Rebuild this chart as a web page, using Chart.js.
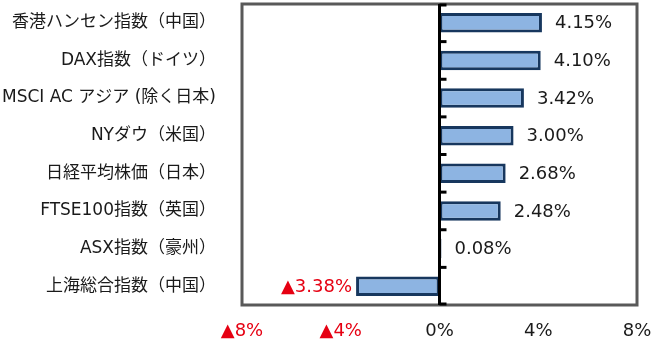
<!DOCTYPE html>
<html>
<head>
<meta charset="utf-8">
<script src="https://cdn.jsdelivr.net/npm/chart.js@4"></script>
<style>
html,body{margin:0;padding:0;background:#fff;}
#wrap{width:659px;height:345px;position:relative;}
</style>
</head>
<body>
<div id="wrap"><canvas id="c" width="659" height="345"></canvas></div>
<script>
const categories = ["香港ハンセン指数（中国）","DAX指数（ドイツ）","MSCI AC アジア (除く日本)","NYダウ（米国）","日経平均株価（日本）","FTSE100指数（英国）","ASX指数（豪州）","上海総合指数（中国）"];
const returns = [4.15, 4.10, 3.42, 3.00, 2.68, 2.48, 0.08, -3.38];
const xTicks = [-8, -4, 0, 4, 8];

const FONT = '"DejaVu Sans", "Noto Sans CJK JP", sans-serif';
const RED = '#e60012';
const TXT = '#1a1a1a';

function fmt(v, digits) {
  const s = Math.abs(v).toFixed(digits) + '%';
  return v < 0 ? '▲' + s : s;
}

const decor = {
  id: 'decor',
  afterDatasetsDraw(chart) {
    const {ctx, chartArea: a, scales: {x, y}} = chart;
    ctx.save();
    // plot border
    ctx.strokeStyle = '#595959';
    ctx.lineWidth = 3;
    ctx.strokeRect(a.left, a.top, a.right - a.left, a.bottom - a.top);
    // zero line
    const x0 = x.getPixelForValue(0);
    ctx.strokeStyle = '#000';
    ctx.lineWidth = 3;
    ctx.beginPath();
    ctx.moveTo(x0, a.top);
    ctx.lineTo(x0, a.bottom);
    ctx.stroke();
    // tick marks at category boundaries
    const n = categories.length;
    for (let i = 0; i <= n; i++) {
      let yy;
      if (i === 0) yy = a.top + 1;
      else if (i === n) yy = a.bottom - 1;
      else yy = (y.getPixelForValue(i - 1) + y.getPixelForValue(i)) / 2;
      ctx.beginPath();
      ctx.moveTo(x0, yy);
      ctx.lineTo(x0 + 7, yy);
      ctx.stroke();
    }
    // value labels
    ctx.font = '18px ' + FONT;
    ctx.textBaseline = 'middle';
    returns.forEach((v, i) => {
      const px = x.getPixelForValue(v);
      const py = y.getPixelForValue(i) + 1;
      if (v < 0) {
        ctx.fillStyle = RED;
        ctx.textAlign = 'right';
        ctx.fillText(fmt(v, 2), px - 4, py);
      } else {
        ctx.fillStyle = TXT;
        ctx.textAlign = 'left';
        ctx.fillText(fmt(v, 2), px + 13, py);
      }
    });
    ctx.restore();
  }
};

new Chart(document.getElementById('c'), {
  type: 'bar',
  data: {
    labels: categories,
    datasets: [{
      data: returns,
      backgroundColor: '#8db4e2',
      borderColor: '#17375e',
      borderWidth: 3,
      borderSkipped: false,
      categoryPercentage: 1,
      barPercentage: 0.52
    }]
  },
  options: {
    indexAxis: 'y',
    responsive: false,
    animation: false,
    layout: {padding: {top: 4, right: 22, bottom: 0, left: 0}},
    plugins: {legend: {display: false}, tooltip: {enabled: false}},
    scales: {
      x: {
        min: -8, max: 8,
        afterBuildTicks(s) { s.ticks = xTicks.map(v => ({value: v})); },
        afterFit(s) { s.height = 40; s.paddingLeft = 0; s.paddingRight = 0; },
        grid: {display: false, drawTicks: false},
        border: {display: false},
        ticks: {
          padding: 16,
          maxRotation: 0,
          font: {family: FONT, size: 18},
          color: c => (c.tick && c.tick.value < 0) ? RED : TXT,
          callback: v => fmt(v, 0)
        }
      },
      y: {
        afterFit(s) { s.width = 242; s.paddingTop = 0; s.paddingBottom = 0; },
        grid: {display: false, drawTicks: false},
        border: {display: false},
        ticks: {
          padding: 26,
          autoSkip: false,
          font: {family: FONT, size: 17},
          color: TXT
        }
      }
    }
  },
  plugins: [decor]
});
</script>
</body>
</html>
